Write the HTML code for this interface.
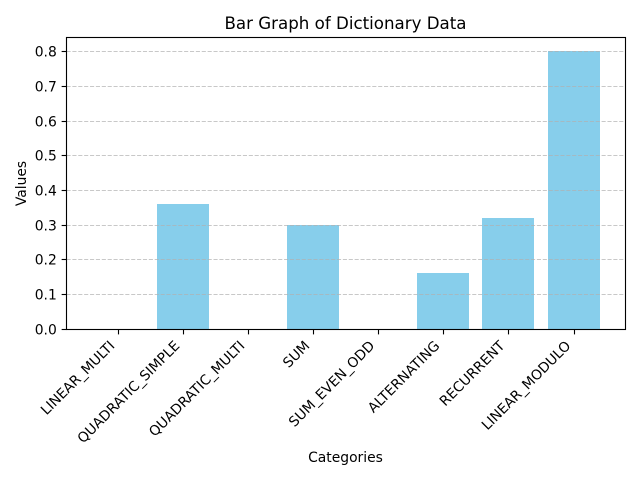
<!DOCTYPE html>
<html>
<head>
<meta charset="utf-8">
<title>Bar Graph of Dictionary Data</title>
<style>
html,body{margin:0;padding:0;background:#fff;width:640px;height:480px;overflow:hidden}
svg{display:block}
text{font-family:"DejaVu Sans","Liberation Sans",sans-serif;fill:#000}
</style>
</head>
<body>
<svg id="chart" xmlns="http://www.w3.org/2000/svg" width="640" height="480" viewBox="0 0 640 480">
<rect x="0" y="0" width="640" height="480" fill="#fff"/>
<g id="bars"></g>
<g id="grid"></g>
<rect x="66.5" y="37.5" width="559" height="292" fill="none" stroke="#000" stroke-width="1.11"/>
<g id="xaxis"></g>
<g id="yaxis"></g>
<text x="345.5" y="29" font-size="16.67" text-anchor="middle">Bar Graph of Dictionary Data</text>
<text x="345.5" y="462" font-size="13.89" text-anchor="middle">Categories</text>
<text transform="translate(26 183.5) rotate(-90)" font-size="13.89" text-anchor="middle">Values</text>
</svg>
<script>
const categories = ["LINEAR_MULTI","QUADRATIC_SIMPLE","QUADRATIC_MULTI","SUM","SUM_EVEN_ODD","ALTERNATING","RECURRENT","LINEAR_MODULO"];
const seriesValues = [0, 0.36, 0, 0.3, 0, 0.16, 0.32, 0.8];
const yTickValues = [0, 0.1, 0.2, 0.3, 0.4, 0.5, 0.6, 0.7, 0.8];
const yTickLabels = ["0.0","0.1","0.2","0.3","0.4","0.5","0.6","0.7","0.8"];

const SVGNS = "http://www.w3.org/2000/svg";
const plotLeft = 66.5, plotRight = 625.5, plotBottom = 329, zeroY = 328.8, pxPerCategory = 65.15, pxPerUnit = 347;
function xScale(i){ return 117.55 + i * pxPerCategory; }
function yScale(v){ return zeroY - v * pxPerUnit; }
const barWidth = 52;

function make(tag, attrs, parent, txt){
  const el = document.createElementNS(SVGNS, tag);
  for (const k in attrs) el.setAttribute(k, attrs[k]);
  if (txt !== undefined) el.textContent = txt;
  parent.appendChild(el);
  return el;
}
const barsG = document.getElementById("bars");
const gridG = document.getElementById("grid");
const xG = document.getElementById("xaxis");
const yG = document.getElementById("yaxis");

seriesValues.forEach(function(v, i){
  const x0 = Math.round(xScale(i) - 26.06);
  const y0 = Math.round(yScale(v));
  const bar = make("rect", {x:x0, y:y0, width:barWidth, height:Math.max(0, plotBottom - y0), fill:"#87ceeb"}, barsG);
  
  
});

yTickValues.forEach(function(v, i){
  const y = Math.round(yScale(v)) + 0.5;
  if (i > 0) {
    const line = make("line", {x1:plotLeft, x2:plotRight, y1:y, y2:y, stroke:"#b0b0b0", "stroke-opacity":0.7, "stroke-width":1.11, "stroke-dasharray":"4.1 1.78"}, gridG);
    
    
  }
  const tick = make("line", {x1:plotLeft - 4.86, x2:plotLeft, y1:y, y2:y, stroke:"#000", "stroke-width":1.11}, yG);
  
  
  const label = make("text", {x:plotLeft - 9.7, y:y + 5, "font-size":13.89, "text-anchor":"end"}, yG, yTickLabels[i]);
  
  
});

categories.forEach(function(c, i){
  const x = Math.round(xScale(i)) + 0.5;
  const tick = make("line", {x1:x, x2:x, y1:plotBottom + 0.5, y2:plotBottom + 5.4, stroke:"#000", "stroke-width":1.11}, xG);
  
  
  const ax = x - 3, ay = 346.6;
  const label = make("text", {transform:"translate(" + ax + " " + ay + ") rotate(-45)", "font-size":13.89, "text-anchor":"end"}, xG, c);
  
  
});
</script>
</body>
</html>
